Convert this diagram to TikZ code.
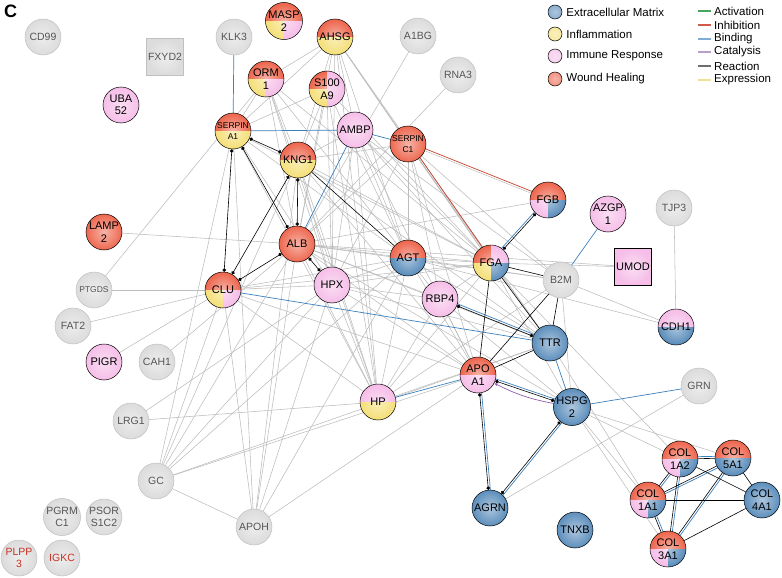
\documentclass[tikz,border=0pt]{standalone}
\usepackage{fontspec}
\setmainfont{Liberation Sans}
\usetikzlibrary{arrows.meta,backgrounds,calc,positioning,fadings}

\definecolor{woundc}{RGB}{238,104,80}
\definecolor{inflamc}{RGB}{245,224,122}
\definecolor{immunec}{RGB}{246,190,232}
\definecolor{ecmc}{RGB}{92,142,188}
\definecolor{greyfill}{RGB}{220,220,220}
\definecolor{greyedge}{RGB}{192,192,192}
\definecolor{greytext}{RGB}{85,85,85}
\definecolor{linkc}{RGB}{188,188,188}
\definecolor{bindc}{RGB}{58,128,190}
\definecolor{inhibc}{RGB}{200,62,40}
\definecolor{catc}{RGB}{140,92,172}
\definecolor{actc}{RGB}{70,165,95}
\definecolor{reactc}{RGB}{110,110,110}
\definecolor{exprc}{RGB}{238,226,150}
\definecolor{lostc}{RGB}{200,50,35}

\tikzfading[name=glow, inner color=transparent!0, outer color=transparent!100]

\newcommand{\genefont}{\fontsize{11}{12.5}\selectfont}
\newcommand{\greyfont}{\fontsize{10.5}{12.5}\selectfont}
\newcommand{\tinygenefont}{\fontsize{8.5}{11}\selectfont}
\newcommand{\legendfont}{\fontsize{11.5}{13}\selectfont}
\newcommand{\panelfont}{\fontsize{18}{20}\selectfont\bfseries}
\newcommand{\glossy}{\fill[white, fill opacity=0.5, path fading=glow] (path picture bounding box.center) circle (17pt);}

\begin{document}
\begin{tikzpicture}[x=1pt, y=-1pt,
    gene/.style={circle, minimum size=36pt, inner sep=0pt, draw=black, line width=0.5pt, align=center,
        font=\genefont, path picture={\glossy}},
    nocat/.style={gene, draw=greyedge, fill=greyfill, text=greytext, font=\greyfont},
    wound/.style={gene, fill=woundc},
    inflam/.style={gene, fill=inflamc},
    immune/.style={gene, fill=immunec},
    ecm/.style={gene, fill=ecmc},
    quarters/.style n args={4}{gene, path picture={
        \fill[#1] (path picture bounding box.north west) rectangle (path picture bounding box.center);
        \fill[#2] (path picture bounding box.north east) rectangle (path picture bounding box.center);
        \fill[#3] (path picture bounding box.south west) rectangle (path picture bounding box.center);
        \fill[#4] (path picture bounding box.south east) rectangle (path picture bounding box.center);
        \glossy}},
    link/.style={draw=linkc, line width=0.55pt},
    bind/.style={draw=bindc, line width=0.7pt},
    inhib/.style={draw=inhibc, line width=0.7pt},
    catal/.style={draw=catc, line width=0.7pt},
    react/.style={draw=black, line width=0.6pt},
    dots/.style={{Circle[length=3.5pt]}-{Circle[length=3.5pt]}},
    key/.style={line width=1.2pt},
    legend/.style={font=\legendfont, inner sep=0pt, anchor=west}]

    \useasboundingbox (0,0) rectangle (782,578);

    % Panel letter
    \node[font=\panelfont, inner sep=0pt, anchor=base west] (panel) at (4,18) {C};

    % Genes without category
    \node[nocat] (cd99) at (43,37) {CD99};
    \node[nocat, rectangle, minimum size=37pt] (fxyd2) at (165,57) {FXYD2};
    \node[nocat] (klk3) at (234,37) {KLK3};
    \node[nocat] (a1bg) at (418,36) {A1BG};
    \node[nocat] (rna3) at (458,75) {RNA3};
    \node[nocat] (tjp3) at (674,208) {TJP3};
    \node[nocat] (b2m) at (561,280) {B2M};
    \node[nocat, font=\tinygenefont] (ptgds) at (94,290) {PTGDS};
    \node[nocat] (fat2) at (73,326) {FAT2};
    \node[nocat] (cah1) at (157,362) {CAH1};
    \node[nocat] (grn) at (699,386) {GRN};
    \node[nocat] (lrg1) at (131,421) {LRG1};
    \node[nocat] (gc) at (156,481) {GC};
    \node[nocat] (apoh) at (254,527) {APOH};
    \node[nocat] (pgrmc1) at (62,517) {PGRM\\C1};
    \node[nocat] (psors) at (104,517) {PSOR\\S1C2};
    \node[nocat, text=lostc] (plpp3) at (19,558) {PLPP\\3};
    \node[nocat, text=lostc] (igkc) at (62,558) {IGKC};

    % Genes with one category
    \node[immune] (uba52) at (121,105) {UBA\\52};
    \node[immune] (ambp) at (355,130) {AMBP};
    \node[wound, font=\tinygenefont] (serpc1) at (408,144) {SERPIN\\C1};
    \node[wound] (lamp2) at (104,232) {LAMP\\2};
    \node[wound] (alb) at (297,244) {ALB};
    \node[immune] (hpx) at (332,285) {HPX};
    \node[immune] (rbp4) at (440,299) {RBP4};
    \node[immune] (azgp1) at (608,214) {AZGP\\1};
    \node[immune, rectangle, minimum size=37pt] (umod) at (633,267) {UMOD};
    \node[immune] (pigr) at (104,362) {PIGR};
    \node[ecm] (ttr) at (550,343) {TTR};
    \node[ecm] (hspg2) at (572,407) {HSPG\\2};
    \node[ecm] (agrn) at (490,508) {AGRN};
    \node[ecm] (tnxb) at (575,530) {TNXB};
    \node[ecm] (col4a1) at (762,500) {COL\\4A1};

    % Genes with several categories
    \node[quarters={woundc}{woundc}{inflamc}{immunec}] (masp2) at (284,21) {MASP\\2};
    \node[quarters={woundc}{woundc}{inflamc}{inflamc}] (ahsg) at (335,37) {AHSG};
    \node[quarters={woundc}{woundc}{inflamc}{immunec}] (orm1) at (266,79) {ORM\\1};
    \node[quarters={woundc}{immunec}{inflamc}{immunec}] (s100a9) at (327,89) {S100\\A9};
    \node[quarters={woundc}{woundc}{inflamc}{inflamc}, font=\tinygenefont] (serpa1) at (233,131) {SERPIN\\A1};
    \node[quarters={woundc}{woundc}{inflamc}{inflamc}] (kng1) at (298,160) {KNG1};
    \node[quarters={woundc}{woundc}{immunec}{ecmc}] (fgb) at (548,200) {FGB};
    \node[quarters={woundc}{woundc}{ecmc}{ecmc}] (agt) at (408,258) {AGT};
    \node[quarters={woundc}{immunec}{inflamc}{ecmc}] (fga) at (491,263) {FGA};
    \node[quarters={woundc}{woundc}{inflamc}{immunec}] (clu) at (223,290) {CLU};
    \node[quarters={immunec}{immunec}{ecmc}{ecmc}] (cdh1) at (676,327) {CDH1};
    \node[quarters={woundc}{woundc}{immunec}{immunec}] (apoa1) at (478,375) {APO\\A1};
    \node[quarters={immunec}{immunec}{inflamc}{inflamc}] (hp) at (378,402) {HP};
    \node[quarters={woundc}{woundc}{immunec}{ecmc}] (col1a2) at (680,459) {COL\\1A2};
    \node[quarters={woundc}{woundc}{ecmc}{ecmc}] (col5a1) at (733,458) {COL\\5A1};
    \node[quarters={woundc}{woundc}{immunec}{ecmc}] (col1a1) at (648,500) {COL\\1A1};
    \node[quarters={woundc}{woundc}{immunec}{ecmc}] (col3a1) at (668,549) {COL\\3A1};

    \begin{pgfonlayer}{background}
    % Plain associations
    \foreach \a/\b in {ahsg/orm1, ahsg/serpa1, ahsg/kng1, ahsg/alb, ahsg/hpx, ahsg/agt, ahsg/fga, ahsg/hp,
        ahsg/ambp, ahsg/ttr, ahsg/serpc1, orm1/serpa1, orm1/kng1, orm1/alb, orm1/hpx, orm1/agt, orm1/fga,
        orm1/hp, orm1/ptgds, s100a9/serpa1, s100a9/kng1, s100a9/alb, s100a9/hpx, s100a9/hp, s100a9/agt,
        s100a9/fga, a1bg/alb, rna3/alb, serpa1/hpx, serpa1/hp, serpa1/agt, serpa1/fga, serpa1/apoh,
        serpa1/gc, kng1/fga, kng1/hpx, kng1/hp, kng1/ttr, kng1/apoa1, kng1/gc, kng1/apoh, kng1/ambp,
        kng1/serpc1, ambp/hpx, ambp/agt, ambp/fga, ambp/hp, ambp/ttr, ambp/apoa1, ambp/b2m, serpc1/alb,
        serpc1/hpx, serpc1/agt, serpc1/rbp4, serpc1/ttr, serpc1/apoa1, serpc1/b2m, alb/agt, alb/fga,
        alb/b2m, alb/rbp4, alb/ttr, alb/apoa1, alb/hp, alb/hspg2, alb/gc, alb/apoh, alb/lamp2, alb/cah1,
        alb/umod, alb/fgb, clu/hpx, clu/hp, clu/gc, clu/apoh, clu/agt, clu/fga, clu/apoa1, clu/ptgds,
        clu/fat2, clu/pigr, hpx/agt, hpx/fga, hpx/hp, hpx/apoa1, hpx/ttr, hpx/gc, hpx/apoh, hpx/rbp4,
        hpx/lrg1, agt/fga, agt/rbp4, agt/ttr, agt/apoa1, agt/b2m, agt/hp, agt/gc, agt/apoh, agt/cdh1,
        fga/umod, fga/hp, fga/hspg2, fga/col1a2, fga/rbp4, b2m/cdh1, b2m/hspg2, b2m/hp, rbp4/apoa1,
        rbp4/hp, rbp4/hspg2, ttr/hp, ttr/gc, ttr/col1a1, apoa1/gc, apoa1/apoh, hspg2/col1a2,
        hspg2/col5a1, hspg2/col1a1, hspg2/col3a1, grn/agrn, lrg1/hp, gc/apoh, tjp3/cdh1, serpc1/fgb,
        serpc1/fga}
      \draw[link] (\a) -- (\b);

    % Binding
    \foreach \a/\b in {klk3/serpa1, serpa1/ambp, ambp/serpc1, ambp/alb, clu/ttr, azgp1/b2m, hp/apoa1,
        ttr/hspg2, hspg2/grn}
      \draw[bind] (\a) -- (\b);
    \foreach \a/\b in {fga/fgb, rbp4/ttr, apoa1/hspg2, hspg2/agrn, apoa1/agrn, col1a2/col5a1,
        col1a2/col1a1, col1a2/col3a1, col5a1/col1a1, col5a1/col3a1, col1a1/col3a1}
      \draw[bind] ($(\a)!2pt!90:(\b)$) -- ($(\b)!2pt!-90:(\a)$);

    % Inhibition
    \foreach \a/\b in {serpc1/fgb, serpc1/fga}
      \draw[inhib] ($(\a)!2pt!90:(\b)$) -- ($(\b)!2pt!-90:(\a)$);

    % Reaction
    \foreach \a/\b in {kng1/agt, fga/b2m, fga/ttr, fga/apoa1, b2m/ttr, b2m/apoa1, apoa1/ttr,
        col1a2/col5a1, col1a2/col1a1, col1a2/col3a1, col1a2/col4a1, col5a1/col4a1, col5a1/col3a1,
        col5a1/col1a1, col1a1/col4a1, col1a1/col3a1, col3a1/col4a1}
      \draw[react] (\a) -- (\b);
    \foreach \a/\b in {serpa1/kng1, serpa1/alb, serpa1/clu, kng1/alb, kng1/clu, alb/clu, alb/hpx,
        fga/fgb, rbp4/ttr, apoa1/hspg2, hspg2/agrn, apoa1/agrn}
      \draw[react, dots] (\a) -- (\b);

    % Catalysis
    \draw[catal, -{Stealth[length=4pt]}] (hspg2) to[bend left=8] (apoa1);
    \end{pgfonlayer}

    % Legend of categories
    \node[ecm, minimum size=14pt] (lgecm) at (555,12) {};
    \node[inflam, minimum size=14pt] (lginf) at (555,34) {};
    \node[immune, minimum size=14pt] (lgimm) at (555,56) {};
    \node[wound, minimum size=14pt] (lgwnd) at (555,79) {};
    \node[legend, right=4pt of lgecm] {Extracellular Matrix};
    \node[legend, right=4pt of lginf] {Inflammation};
    \node[legend, right=4pt of lgimm] {Immune Response};
    \node[legend, right=4pt of lgwnd] {Wound Healing};

    % Legend of interactions
    \draw[key, draw=actc] (698,11) -- (711,11);
    \draw[key, draw=inhibc!85] (698,25) -- (711,25);
    \draw[key, draw=bindc!65] (698,39) -- (711,39);
    \draw[key, draw=catc!60] (698,52) -- (711,52);
    \draw[key, draw=reactc] (698,66) -- (711,66);
    \draw[key, draw=exprc] (698,80) -- (711,80);
    \node[legend] (lgact) at (714,11) {Activation};
    \node[legend] (lginh) at (714,25) {Inhibition};
    \node[legend] (lgbnd) at (714,39) {Binding};
    \node[legend] (lgcat) at (714,52) {Catalysis};
    \node[legend] (lgrea) at (714,66) {Reaction};
    \node[legend] (lgexp) at (714,80) {Expression};

\end{tikzpicture}
\end{document}
